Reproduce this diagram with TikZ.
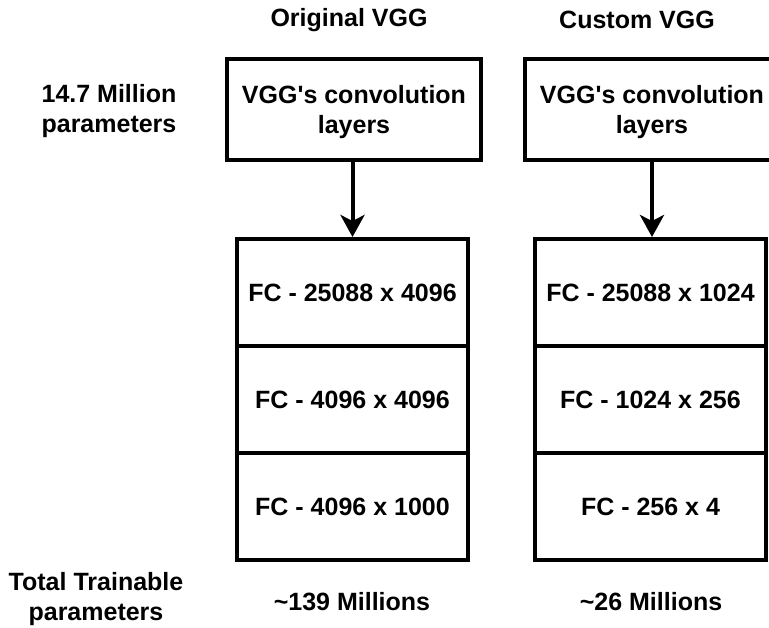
\documentclass[tikz,border=0pt]{standalone}
\usepackage{fontspec}
\setmainfont{Liberation Sans}
\usetikzlibrary{arrows.meta}
\begin{document}
\begin{tikzpicture}[x=1pt,y=-1pt,
  lbl/.style={font=\fontsize{25}{30}\selectfont\bfseries, align=center, inner sep=0pt},
  box/.style={draw, line width=4pt, lbl},
  convbox/.style={box, minimum width=254pt, minimum height=101pt, text depth=0pt},
  fcbox/.style={box, minimum width=231pt, minimum height=107pt},
  flow/.style={line width=4pt, -{Stealth[length=22pt,width=24pt,inset=6pt]}}]
\useasboundingbox (0,0) rectangle (769,628);

% column headings
\node[lbl] (headL) at (349,20) {Original VGG};
\node[lbl] (headR) at (637,20) {Custom VGG};

% row labels
\node[lbl] (convParams) at (109,111) {14.7 Million\\parameters};
\node[lbl] (totalLbl) at (96,599) {Total Trainable\\parameters};

% convolutional backbones
\node[convbox] (convL) at (354,109.5) {VGG\textquotesingle s convolution\\layers};
\node[convbox] (convR) at (652,109.5) {VGG\textquotesingle s convolution\\layers};

% fully connected heads, original
\node[fcbox] (fc1L) at (352.5,292.5) {FC - 25088 x 4096};
\node[fcbox] (fc2L) at (352.5,399.5) {FC - 4096 x 4096};
\node[fcbox] (fc3L) at (352.5,506.5) {FC - 4096 x 1000};

% fully connected heads, custom
\node[fcbox] (fc1R) at (650.5,292.5) {FC - 25088 x 1024};
\node[fcbox] (fc2R) at (650.5,399.5) {FC - 1024 x 256};
\node[fcbox] (fc3R) at (650.5,506.5) {FC - 256 x 4};

% connectors
\draw[flow] (fc1L.north |- convL.south) -- (fc1L.north);
\draw[flow] (convR.south) -- (convR.south |- fc1R.north);

% totals
\node[lbl] (totL) at (352,602) {\textasciitilde139 Millions};
\node[lbl] (totR) at (651,602) {\textasciitilde26 Millions};
\end{tikzpicture}
\end{document}
